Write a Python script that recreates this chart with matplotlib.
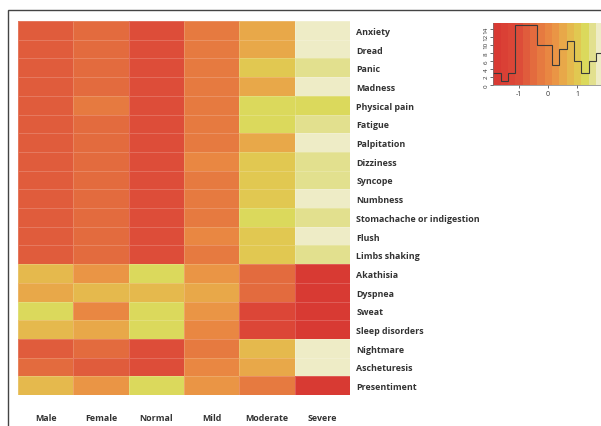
import numpy as np
import matplotlib.pyplot as plt
from matplotlib.colors import ListedColormap, BoundaryNorm
from matplotlib.patches import Rectangle

plt.rcParams['font.family'] = ['Open Sans', 'DejaVu Sans']
plt.rcParams['axes.unicode_minus'] = False

groups = ["Male", "Female", "Normal", "Mild", "Moderate", "Severe"]
symptoms = ["Anxiety", "Dread", "Panic", "Madness", "Physical pain", "Fatigue",
            "Palpitation", "Dizziness", "Syncope", "Numbness",
            "Stomachache or indigestion", "Flush", "Limbs shaking", "Akathisia",
            "Dyspnea", "Sweat", "Sleep disorders", "Nightmare", "Ascheturesis",
            "Presentiment"]

# z-scores (Male, Female, Normal, Mild, Moderate, Severe)
anxiety = [-0.75, -0.5, -1.0, -0.25, 0.5, 1.8]
dread = [-0.75, -0.5, -1.0, -0.25, 0.5, 1.8]
panic = [-0.75, -0.5, -1.0, -0.25, 0.95, 1.5]
madness = [-0.75, -0.5, -1.0, -0.3, 0.5, 1.8]
physical_pain = [-0.75, -0.2, -1.1, -0.2, 1.3, 1.3]
fatigue = [-0.75, -0.5, -1.0, -0.25, 1.3, 1.5]
palpitation = [-0.75, -0.5, -1.0, -0.3, 0.45, 1.75]
dizziness = [-0.75, -0.5, -1.0, 0.0, 0.95, 1.5]
syncope = [-0.75, -0.5, -1.0, -0.25, 0.95, 1.5]
numbness = [-0.75, -0.5, -1.0, -0.25, 0.95, 1.75]
stomachache = [-0.75, -0.5, -1.0, -0.25, 1.3, 1.5]
flush = [-0.75, -0.5, -1.0, 0.0, 0.95, 1.75]
limbs_shaking = [-0.75, -0.5, -1.0, -0.25, 0.95, 1.5]
akathisia = [0.8, 0.2, 1.25, 0.2, -0.5, -1.75]
dyspnea = [0.5, 0.7, 0.8, 0.6, -0.5, -1.75]
sweat = [1.25, 0.0, 1.3, 0.2, -1.2, -1.75]
sleep_disorders = [0.75, 0.5, 1.3, 0.0, -1.2, -1.75]
nightmare = [-0.75, -0.5, -1.1, -0.3, 0.8, 1.8]
ascheturesis = [-0.5, -0.75, -1.0, 0.0, 0.6, 1.8]
presentiment = [0.8, 0.2, 1.25, 0.3, -0.3, -1.75]

# colour key: bins, colours and histogram counts
hist_edges = [-1.89, -1.64, -1.38, -1.13, -0.88, -0.63, -0.37, -0.12, 0.13,
              0.39, 0.64, 0.89, 1.15, 1.40, 1.65, 1.90]
hist_counts = [3, 1, 3, 15, 15, 15, 10, 10, 5, 9, 11, 6, 3, 6, 8]
key_colors = ["#d83a33", "#da4035", "#dc4637", "#dd4d39", "#e05c3c",
              "#e36b3e", "#e67a40", "#e98742", "#ea9545", "#e8a849",
              "#e5b94d", "#e1c851", "#dbd95c", "#e2e08e", "#eeecc6"]

data = np.array([anxiety, dread, panic, madness, physical_pain, fatigue,
                 palpitation, dizziness, syncope, numbness, stomachache, flush,
                 limbs_shaking, akathisia, dyspnea, sweat, sleep_disorders,
                 nightmare, ascheturesis, presentiment])

cmap = ListedColormap(key_colors)
norm = BoundaryNorm(hist_edges, cmap.N)

W, H = 601, 427
fig = plt.figure(figsize=(W / 100, H / 100), dpi=100)

# heatmap
ax = fig.add_axes([18 / W, 31 / H, 332 / W, 374 / H])
ax.pcolormesh(data, cmap=cmap, norm=norm, edgecolors=(1, 1, 1, 0.18), linewidth=0.4)
ax.set_xlim(0, len(groups))
ax.set_ylim(len(symptoms), 0)
ax.set_xticks(np.arange(len(groups)) + 0.5)
ax.set_xticklabels(groups, fontsize=6.4, fontweight='bold', color='#333333')
ax.set_yticks(np.arange(len(symptoms)) + 0.5)
ax.set_yticklabels(symptoms, fontsize=6.4, fontweight='bold', color='#333333')
ax.yaxis.tick_right()
ax.tick_params(axis='y', length=0, pad=4.5)
ax.tick_params(axis='x', length=0, pad=13)
for s in ax.spines.values():
    s.set_visible(False)

# colour key with histogram
kax = fig.add_axes([493 / W, (H - 85.7) / H, 110 / W, 61.4 / H])
mids = [(a + b) / 2 for a, b in zip(hist_edges[:-1], hist_edges[1:])]
kax.pcolormesh(hist_edges, [0, 15.4], [mids], cmap=cmap, norm=norm)
kax.stairs(hist_counts, hist_edges, baseline=None, color='#3a3a3a', linewidth=0.8)
kax.set_xlim(-1.9, 1.9)
kax.set_ylim(0, 15.4)
kax.set_xticks([-1, 0, 1])
kax.set_yticks(range(0, 15, 2))
kax.tick_params(axis='x', labelsize=5, length=2, width=0.5, pad=2, colors='#333333')
kax.tick_params(axis='y', labelsize=4.5, length=2, width=0.5, pad=1, colors='#333333',
                labelrotation=90)
for lab in kax.get_yticklabels():
    lab.set_va('center')
for side in ['top', 'right']:
    kax.spines[side].set_visible(False)
for side in ['left', 'bottom']:
    kax.spines[side].set_linewidth(0.5)
    kax.spines[side].set_color('#777777')

# outer frame
fig.add_artist(Rectangle((8 / W, -0.1), 1.2, 1 - 11 / H + 0.1, transform=fig.transFigure,
                         fill=False, edgecolor='#444444', linewidth=1))

fig.savefig('out.png', dpi=100)
